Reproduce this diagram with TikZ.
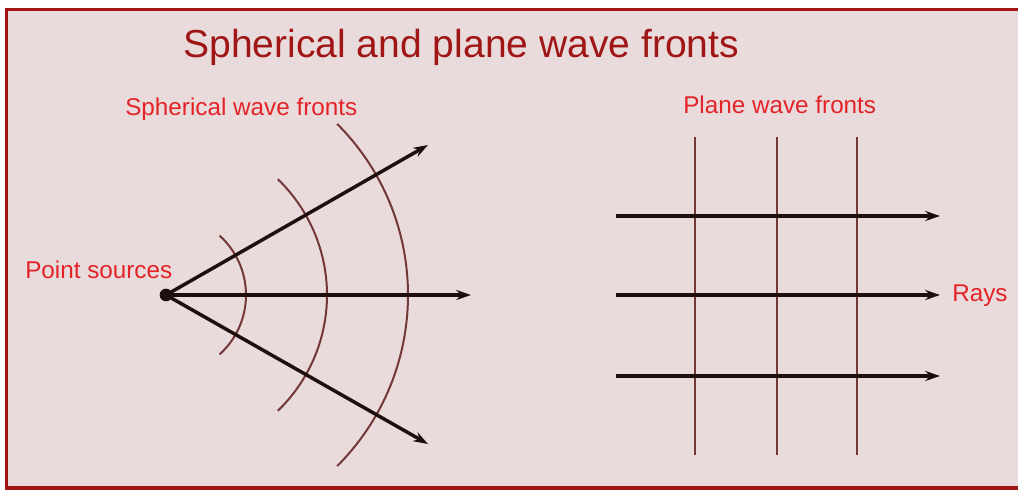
\documentclass[tikz,border=0pt]{standalone}
\usepackage{fontspec}
\setmainfont{Liberation Sans}
\definecolor{framered}{RGB}{165, 20, 20}
\definecolor{titlered}{RGB}{160, 22, 22}
\definecolor{labelred}{RGB}{228, 35, 40}
\definecolor{paperpink}{RGB}{233, 219, 219}
\definecolor{frontbrown}{RGB}{115, 55, 55}
\definecolor{rayblack}{RGB}{30, 14, 14}
\usetikzlibrary{arrows.meta, positioning}

\begin{document}
\begin{tikzpicture}[x=0.75pt, y=-0.75pt,
    ray/.style={draw=rayblack, line width=2.6pt, -{Stealth[length=11pt, width=7.5pt]}},
    front/.style={draw=frontbrown, line width=1.5pt},
    lbl/.style={text=labelred, inner sep=0pt, anchor=base west, font=\fontsize{18.2}{20}\selectfont}]
    \useasboundingbox (0,0) rectangle (1018,491);
    \fill[white] (0,0) rectangle (1018,491);
    \fill[paperpink] (6,9) rectangle (1018,489);
    \draw[framered, line width=2.4pt] (1018,9.5) -- (6.5,9.5) -- (6.5,488) -- (1018,488);

    % title
    \node[inner sep=0pt, anchor=base west, text=titlered, font=\fontsize{29.3}{32}\selectfont]
          (title) at (183,57.5) {Spherical and plane wave fronts};

    % spherical wave fronts
    \node[circle, fill=rayblack, inner sep=0pt, minimum size=9.5pt] (src) at (166,295) {};
    \foreach \r/\a in {80/48, 161/46, 242/45}
        \draw[front] ([shift={(-\a:\r)}]src.center) arc[start angle=-\a, end angle=\a, radius=\r];
    \coordinate (up) at (428,145);
    \coordinate (mid) at (471,295);
    \coordinate (dn) at (428,444);
    \draw[ray] (src.center) -- (up);
    \draw[ray] (src.center) -- (mid);
    \draw[ray] (src.center) -- (dn);
    \node[lbl] (sphlbl) at (125,116) {Spherical wave fronts};
    \node[lbl] (srclbl) at (25,279) {Point sources};

    % plane wave fronts
    \foreach \x in {695, 777, 857}
        \draw[front, line width=1.7pt] (\x,137) -- (\x,455);
    \foreach \y [count=\i] in {216, 295, 376} {
        \coordinate (w\i) at (616,\y);
        \coordinate (e\i) at (940,\y);
        \draw[ray, line width=2.9pt] (w\i) -- (e\i);
    }
    \node[lbl] (planelbl) at (683,114) {Plane wave fronts};
    \node[lbl] (raylbl) at (952,302) {Rays};
\end{tikzpicture}
\end{document}
